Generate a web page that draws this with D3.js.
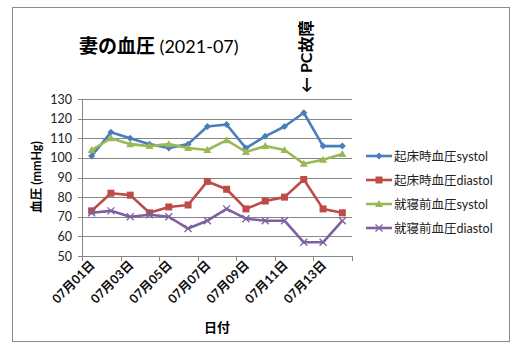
<!DOCTYPE html>
<html>
<head>
<meta charset="UTF-8">
<script src="https://d3js.org/d3.v7.min.js"></script>
<style>
  body { margin: 0; background: #fff; }
  text { font-family: Lato, "Noto Sans CJK JP", sans-serif; }
</style>
</head>
<body>
<svg id="canvas"></svg>
<script>
width = 523;
height = 352;

days = ["07月01日","07月02日","07月03日","07月04日","07月05日","07月06日","07月07日",
        "07月08日","07月09日","07月10日","07月11日","07月12日","07月13日","07月14日"];
seriesNames = ["起床時血圧systol","起床時血圧diastol","就寝前血圧systol","就寝前血圧diastol"];
wakeSys  = [101,113,110,107,105,107,116,117,105,111,116,123,106,106];
wakeDia  = [73,82,81,72,75,76,88,84,74,78,80,89,74,72];
bedSys   = [104,110,107,106,107,105,104,109,103,106,104,97,99,102];
bedDia   = [72,73,70,71,70,64,68,74,69,68,68,57,57,68];
yTicks = [50,60,70,80,90,100,110,120,130];

colors = ["#4a7ebb","#be4b48","#98b954","#7d60a0"];
markers = ["diamond","square","triangle","x"];
allSeries = [wakeSys, wakeDia, bedSys, bedDia];

canvas = d3.select("#canvas").attr("width", width).attr("height", height);

canvas.append("rect")
    .attr("x", 12.5).attr("y", 7.5).attr("width", 497).attr("height", 334)
    .attr("fill", "#fff").attr("stroke", "#8c8c8c").attr("stroke-width", 1);

x = d3.scaleBand().domain(days).range([82, 352]);
y = d3.scaleLinear().domain([50, 130]).range([256, 99]);

// gridlines + y ticks
canvas.selectAll(".grid").data(yTicks).enter().append("line")
    .attr("x1", 78).attr("x2", 352)
    .attr("y1", d => Math.round(y(d)) + 0.5).attr("y2", d => Math.round(y(d)) + 0.5)
    .attr("stroke", "#868686").attr("stroke-width", 1);

canvas.selectAll(".ylab").data(yTicks).enter().append("text")
    .attr("x", 72).attr("y", d => y(d) + 4.5)
    .attr("text-anchor", "end").attr("font-size", 12.5).attr("fill", "#222")
    .text(d => d);

// y axis line
canvas.append("line").attr("x1", 82.5).attr("x2", 82.5).attr("y1", 99).attr("y2", 256)
    .attr("stroke", "#868686");

// x ticks at band boundaries every 2 categories
bounds = d3.range(0, days.length + 1, 2);
canvas.selectAll(".xt").data(bounds).enter().append("line")
    .attr("x1", i => Math.round(82 + i * x.step()) + 0.5)
    .attr("x2", i => Math.round(82 + i * x.step()) + 0.5)
    .attr("y1", 256).attr("y2", 261)
    .attr("stroke", "#868686");

canvas.selectAll(".xlab").data(days.filter((d, i) => i % 2 == 0)).enter().append("text")
    .attr("transform", d => "translate(" + (x(d) + x.bandwidth() / 2 + 4) + ",266) rotate(-45)")
    .attr("text-anchor", "end").attr("font-size", 12.5).attr("font-weight", "bold")
    .attr("font-family", "'Noto Sans CJK JP', sans-serif").attr("fill", "#111")
    .text(d => d);

function marker(g, type, color) {
    if (type == "diamond") {
        g.append("path").attr("d", "M0,-3.5L3.5,0L0,3.5L-3.5,0Z").attr("fill", color);
    } else if (type == "square") {
        g.append("rect").attr("x", -3.5).attr("y", -3.5).attr("width", 7).attr("height", 7).attr("fill", color);
    } else if (type == "triangle") {
        g.append("path").attr("d", "M0,-4L4,3L-4,3Z").attr("fill", color);
    } else {
        g.append("path").attr("d", "M-3.5,-3.5L3.5,3.5M-3.5,3.5L3.5,-3.5")
            .attr("stroke", color).attr("stroke-width", 1.3);
    }
}

line = d3.line().x((d, i) => x(days[i]) + x.bandwidth() / 2).y(d => y(d));

allSeries.forEach(function(s, k) {
    canvas.append("path").attr("d", line(s))
        .attr("fill", "none").attr("stroke", colors[k]).attr("stroke-width", 2.6)
        .attr("stroke-linejoin", "round");
    s.forEach(function(v, i) {
        g = canvas.append("g").attr("transform", "translate(" + (x(days[i]) + x.bandwidth() / 2) + "," + y(v) + ")");
        marker(g, markers[k], colors[k]);
    });
});

// legend
legendY = [156, 180, 204, 228];
seriesNames.forEach(function(n, k) {
    canvas.append("line").attr("x1", 366).attr("x2", 392)
        .attr("y1", legendY[k]).attr("y2", legendY[k])
        .attr("stroke", colors[k]).attr("stroke-width", 2.6);
    g = canvas.append("g").attr("transform", "translate(379," + legendY[k] + ")");
    marker(g, markers[k], colors[k]);
    canvas.append("text").attr("x", 394).attr("y", legendY[k] + 4.5)
        .attr("font-size", 12.5).attr("fill", "#222")
        .attr("font-family", "'Noto Sans CJK JP', sans-serif")
        .text(n);
});

// title
title = canvas.append("text").attr("x", 79).attr("y", 53).attr("fill", "#000");
title.append("tspan").attr("font-size", 19).attr("font-weight", "bold")
    .attr("font-family", "'Noto Sans CJK JP', sans-serif").text("妻の血圧");
title.append("tspan").attr("font-size", 18).text(" (2021-07)");

// y axis title
canvas.append("text").attr("transform", "translate(41,177) rotate(-90)")
    .attr("text-anchor", "middle").attr("font-size", 12.5).attr("font-weight", "bold")
    .attr("font-family", "'Noto Sans CJK JP', sans-serif")
    .text("血圧 (mmHg)");

// x axis title
canvas.append("text").attr("x", 217).attr("y", 332)
    .attr("text-anchor", "middle").attr("font-size", 13).attr("font-weight", "bold")
    .attr("font-family", "'Noto Sans CJK JP', sans-serif")
    .text("日付");

// annotation
canvas.append("text").attr("transform", "translate(312,93) rotate(-90)")
    .attr("text-anchor", "start").attr("font-size", 16).attr("font-weight", "bold")
    .attr("font-family", "'Noto Sans CJK JP', sans-serif")
    .text("← PC故障");
</script>
</body>
</html>
